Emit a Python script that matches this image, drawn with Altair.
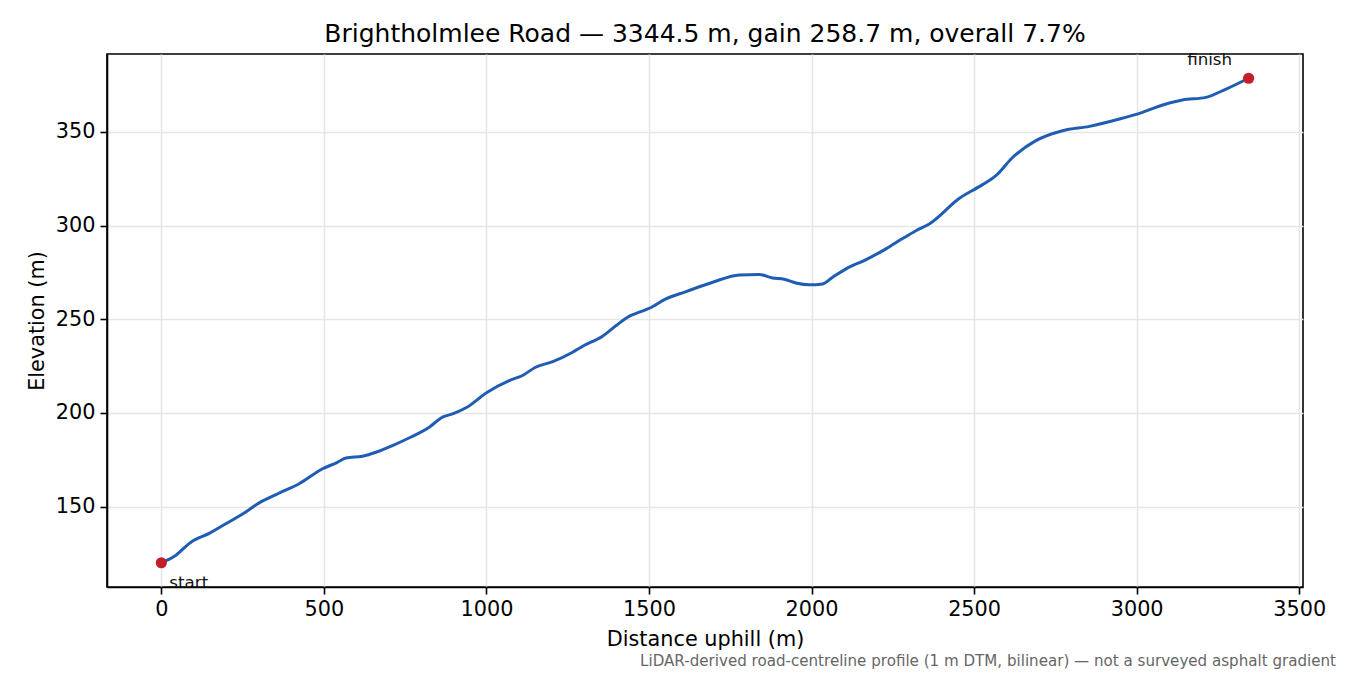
import altair as alt
import pandas as pd

distance = [0, 40, 91, 150, 189, 250, 301, 360, 424, 496, 540, 568, 619, 660, 711, 760,
            824, 865, 896, 940, 999, 1070, 1111, 1151, 1204, 1265, 1296, 1357, 1399, 1440,
            1470, 1501, 1552, 1614, 1696, 1778, 1839, 1880, 1916, 1952, 1993, 2034, 2065,
            2106, 2168, 2229, 2280, 2321, 2362, 2455, 2526, 2567, 2619, 2690, 2772, 2855,
            2947, 3018, 3080, 3141, 3213, 3275, 3344.5]
elevation = [120.0, 123.5, 131.0, 136.0, 139.9, 146.0, 152.0, 157.0, 162.2, 170.2, 173.5,
             175.9, 176.9, 179.0, 182.6, 186.5, 192.4, 197.8, 199.5, 203.0, 210.7, 217.3,
             220.0, 224.4, 227.4, 232.4, 235.6, 241.0, 246.7, 251.7, 253.8, 255.9, 260.9,
             264.8, 269.8, 273.7, 273.9, 272.1, 271.4, 269.4, 268.4, 268.9, 272.5, 276.9,
             281.9, 287.6, 293.1, 297.3, 300.9, 314.6, 321.9, 326.7, 336.5, 345.4, 350.7,
             353.0, 356.9, 360.5, 364.4, 367.1, 368.5, 372.9, 378.7]

end_labels = ["start", "finish"]
end_distance = [0, 3344.5]
end_elevation = [120.0, 378.7]

title_text = "Brightholmlee Road \u2014 3344.5 m, gain 258.7 m, overall 7.7%"
footnote = "LiDAR-derived road-centreline profile (1 m DTM, bilinear) \u2014 not a surveyed asphalt gradient"

profile = pd.DataFrame({"d": distance, "e": elevation})
ends = pd.DataFrame({"label": end_labels, "d": end_distance, "e": end_elevation})

FONT = "DejaVu Sans"
xscale = alt.Scale(domain=[-167.2, 3511.7], nice=False, zero=False)
yscale = alt.Scale(domain=[107.07, 391.64], nice=False, zero=False)

xaxis = alt.Axis(title="Distance uphill (m)", values=[0, 500, 1000, 1500, 2000, 2500, 3000, 3500],
                 format="d", grid=True)
yaxis = alt.Axis(title="Elevation (m)", values=[150, 200, 250, 300, 350], format="d", grid=True)

line = alt.Chart(profile).mark_line(color="#1f5db4", strokeWidth=3, interpolate="monotone").encode(
    x=alt.X("d:Q", scale=xscale, axis=xaxis),
    y=alt.Y("e:Q", scale=yscale, axis=yaxis),
)

pts = alt.Chart(ends).mark_circle(color="#c41e2b", opacity=1, size=125).encode(
    x=alt.X("d:Q", scale=xscale),
    y=alt.Y("e:Q", scale=yscale),
)

start_lbl = alt.Chart(ends[ends.label == "start"]).mark_text(
    align="left", baseline="middle", dx=8, dy=20, fontSize=16.7, font=FONT, color="#111"
).encode(x=alt.X("d:Q", scale=xscale), y=alt.Y("e:Q", scale=yscale), text="label:N")

finish_lbl = alt.Chart(ends[ends.label == "finish"]).mark_text(
    align="center", baseline="middle", dx=-39, dy=-18, fontSize=16.7, font=FONT, color="#111"
).encode(x=alt.X("d:Q", scale=xscale), y=alt.Y("e:Q", scale=yscale), text="label:N")

foot = alt.Chart(pd.DataFrame({"t": [footnote]})).mark_text(
    align="right", baseline="middle", fontSize=15.1, font=FONT, color="#666666"
).encode(x=alt.value(1229), y=alt.value(607), text="t:N")

chart = alt.layer(line, pts, start_lbl, finish_lbl, foot).properties(
    width=1196, height=533,
    title=alt.TitleParams(title_text, fontSize=25, fontWeight="normal", font=FONT,
                          color="#000", anchor="middle", offset=5),
    autosize=alt.AutoSizeParams(type="none"),
    padding={"left": 99, "top": 46, "right": 39, "bottom": 84},
).configure_view(
    stroke="#000", strokeWidth=1.6
).configure_axis(
    labelFont=FONT, titleFont=FONT, labelFontSize=20.8, titleFontSize=20.8,
    labelColor="#000", titleColor="#000", titleFontWeight="normal",
    domainColor="#000", domainWidth=1.6, tickColor="#000", tickSize=7, tickWidth=1.6,
    gridColor="#e6e6e6", gridWidth=1.6, labelPadding=5,
).configure_axisX(titlePadding=11).configure_axisY(titlePadding=8)

chart.save("out.html", embed_options={"renderer": "svg", "actions": False})
